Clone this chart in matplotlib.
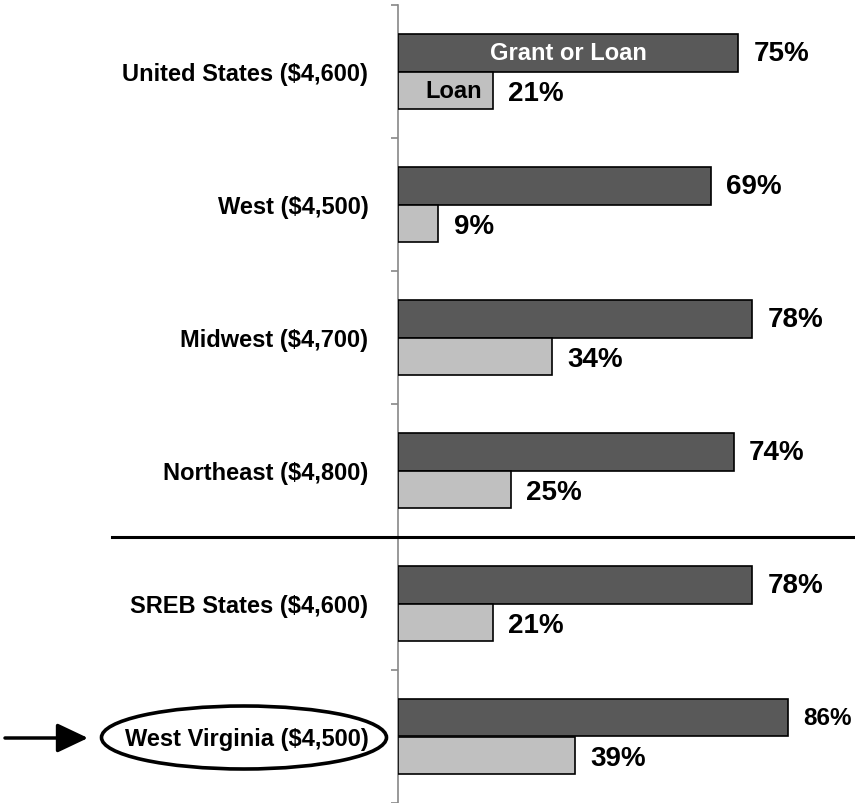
import matplotlib
matplotlib.use('Agg')
from matplotlib import pyplot as plt
from matplotlib import font_manager
from matplotlib.patches import Ellipse

regions = ['United States ($4,600)', 'West ($4,500)', 'Midwest ($4,700)',
           'Northeast ($4,800)', 'SREB States ($4,600)', 'West Virginia ($4,500)']
grant_or_loan = [75, 69, 78, 74, 78, 86]
loan_only = [21, 9, 34, 25, 21, 39]

dark = '#595959'
light = '#c0c0c0'

plt.rcParams['font.family'] = ['Liberation Sans', 'DejaVu Sans']
plt.rcParams['font.weight'] = 'bold'

names = {f.name for f in font_manager.fontManager.ttflist}
narrow = 'Liberation Sans Narrow' in names

fig = plt.figure(figsize=(8.55, 8.04), dpi=100)
ax = fig.add_axes([397.5 / 855, 0, 457.5 / 855, 798 / 804])

h = 0.285
y = [i + 0.5 for i in range(len(regions))]
ax.barh([v - h / 2 for v in y], grant_or_loan, height=h, color=dark,
        edgecolor='black', linewidth=1.2, zorder=3)
ax.barh([v + h / 2 for v in y], loan_only, height=h, color=light,
        edgecolor='black', linewidth=1.2, zorder=3)

ax.set_xlim(0, 100.66)
ax.set_ylim(6, 0)

for i in range(len(regions)):
    last = i == len(regions) - 1
    if last and narrow:
        kw = dict(family=['Liberation Sans Narrow', 'Liberation Sans'], fontsize=20)
    elif last:
        kw = dict(fontsize=17.5)
    else:
        kw = dict(fontsize=20)
    ax.annotate('%d%%' % grant_or_loan[i], (grant_or_loan[i], y[i] - h / 2),
                xytext=(11, 0), textcoords='offset points', ha='left',
                va='center', fontweight='bold', **kw)
    ax.annotate('%d%%' % loan_only[i], (loan_only[i], y[i] + h / 2),
                xytext=(11, -2), textcoords='offset points', ha='left',
                va='center', fontsize=20, fontweight='bold')

# series names written inside the first pair of bars
ax.text(grant_or_loan[0] / 2, y[0] - h / 2, 'Grant or Loan', color='white',
        ha='center', va='center', fontsize=17, fontweight='bold', zorder=4)
ax.annotate('Loan', (loan_only[0], y[0] + h / 2), xytext=(-8, 0),
            textcoords='offset points', ha='right', va='center',
            fontsize=17, fontweight='bold', zorder=4)

ax.set_yticks(range(len(regions) + 1))
ax.set_yticklabels([])
ax.set_yticks(y, minor=True)
ax.set_yticklabels(regions, minor=True, fontsize=17, fontweight='bold')
ax.tick_params(axis='y', which='major', direction='out', length=5,
               width=1.2, color='#888888')
ax.tick_params(axis='y', which='minor', length=0, pad=21)
ax.set_xticks([])

for s in ['top', 'right', 'bottom']:
    ax.spines[s].set_visible(False)
ax.spines['left'].set_color('#888888')
ax.spines['left'].set_linewidth(1.2)

# separator between regions and states
ax.plot([-62.8, 100.7], [4, 4], color='black', linewidth=2.2, clip_on=False,
        zorder=5)

# highlight West Virginia
fig.patches.append(Ellipse((244 / 855, 1 - 738.5 / 804), 285 / 855, 63 / 804,
                           transform=fig.transFigure, fill=False,
                           edgecolor='black', linewidth=2.6))
yy = 1 - 739 / 804
ax.annotate('', xy=(88 / 855, yy), xytext=(5 / 855, yy),
            xycoords='figure fraction', textcoords='figure fraction',
            arrowprops=dict(arrowstyle='-|>,head_length=0.95,head_width=0.45',
                            lw=2.5, color='black', mutation_scale=20,
                            shrinkA=0, shrinkB=0))

fig.savefig('out.png', dpi=100)
